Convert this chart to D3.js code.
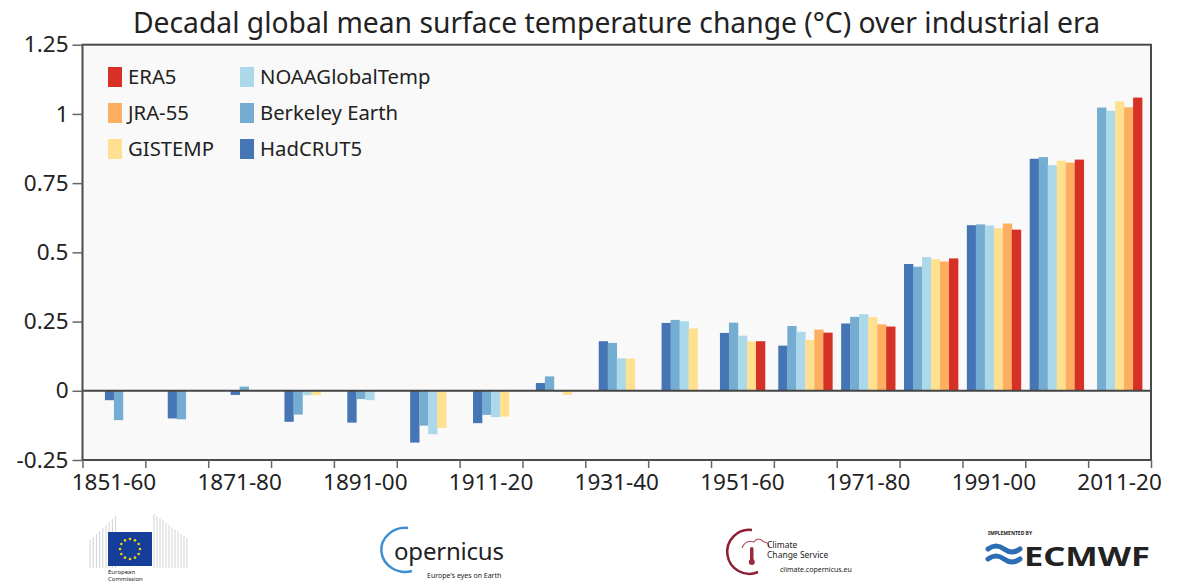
<!DOCTYPE html>
<html>
<head>
<meta charset="utf-8">
<script src="https://cdn.jsdelivr.net/npm/d3@7"></script>
<style>
  body { margin: 0; background: #fff; }
  svg { display: block; }
  text { font-family: "Noto Sans", "Open Sans", sans-serif; fill: #222; }
</style>
</head>
<body>
<svg id="chart" width="1194" height="582"></svg>
<script>
// Decadal anomalies (°C) relative to 1850-1900, six datasets
const decades = ["1851-60","1861-70","1871-80","1881-90","1891-00","1901-10","1911-20","1921-30",
                 "1931-40","1941-50","1951-60","1961-70","1971-80","1981-90","1991-00","2001-10","2011-20"];
const seriesNames  = ["HadCRUT5","Berkeley Earth","NOAAGlobalTemp","GISTEMP","JRA-55","ERA5"];
const seriesColors = ["#4575b4","#74add1","#abd9e9","#fee090","#fdae61","#d73027"];

const hadcrut5 = [-0.034,-0.100,-0.015,-0.112,-0.115,-0.187,-0.117, 0.028, 0.179, 0.245, 0.209, 0.163, 0.243, 0.458, 0.598, 0.838, null];
const berkeley = [-0.106,-0.103, 0.015,-0.086,-0.030,-0.126,-0.087, 0.052, 0.173, 0.256, 0.246, 0.234, 0.267, 0.448, 0.601, 0.844, 1.023];
const noaa     = [  null,  null,  null,-0.016,-0.034,-0.157,-0.095,-0.003, 0.117, 0.251, 0.199, 0.213, 0.277, 0.483, 0.597, 0.815, 1.011];
const gistemp  = [  null,  null,  null,-0.016,-0.003,-0.134,-0.093,-0.015, 0.116, 0.225, 0.178, 0.184, 0.266, 0.475, 0.587, 0.831, 1.045];
const jra55    = [  null,  null,  null,  null,  null,  null,  null,  null,  null,  null,  null, 0.221, 0.240, 0.467, 0.604, 0.824, 1.024];
const era5     = [  null,  null,  null,  null,  null,  null,  null,  null,  null,  null, 0.179, 0.210, 0.232, 0.478, 0.582, 0.835, 1.059];

const yTicks = [-0.25, 0, 0.25, 0.5, 0.75, 1, 1.25];
const yTickLabels = ["-0.25", "0", "0.25", "0.5", "0.75", "1", "1.25"];
const xLabelDecades = ["1851-60","1871-80","1891-00","1911-20","1931-40","1951-60","1971-80","1991-00","2011-20"];

const legendColumns = [["ERA5","JRA-55","GISTEMP"],["NOAAGlobalTemp","Berkeley Earth","HadCRUT5"]];

const titleText = "Decadal global mean surface temperature change (\u00B0C) over industrial era";

const allSeries = [hadcrut5, berkeley, noaa, gistemp, jra55, era5];

const svg = d3.select("#chart");
const plotLeft = 82.5, plotRight = 1151, plotTop = 44.7, plotBottom = 460;

const x = d3.scaleBand().domain(decades).range([plotLeft, plotRight]).paddingInner(0).paddingOuter(0);
const xEdge = d3.scaleLinear().domain([0, decades.length]).range([plotLeft, plotRight]);
const y = d3.scaleLinear().domain([-0.25, 1.25]).range([plotBottom, plotTop]);
const color = d3.scaleOrdinal().domain(seriesNames).range(seriesColors);

// plot background
svg.append("rect").attr("x", plotLeft).attr("y", plotTop)
  .attr("width", plotRight - plotLeft).attr("height", plotBottom - plotTop)
  .attr("fill", "#f9f9f9");

// bars: datasets present in a decade sit side by side, centred in the decade slot
const barW = x.bandwidth() * 0.86 / 6;
const bars = [];
decades.forEach((d, i) => {
  const present = [];
  allSeries.forEach((s, k) => { if (s[i] !== null) present.push({ name: seriesNames[k], v: s[i] }); });
  const start = x(d) + x.bandwidth() / 2 - present.length * barW / 2;
  present.forEach((p, j) => bars.push({ decade: d, name: p.name, v: p.v, x0: start + j * barW }));
});

svg.append("g").selectAll("rect").data(bars).join("rect")
  .attr("x", b => b.x0)
  .attr("width", barW + 0.3)
  .attr("y", b => y(Math.max(0, b.v)))
  .attr("height", b => Math.abs(y(b.v) - y(0)))
  .attr("fill", b => color(b.name));

// zero line
svg.append("line").attr("x1", plotLeft).attr("x2", plotRight).attr("y1", y(0)).attr("y2", y(0))
  .attr("stroke", "#444").attr("stroke-width", 2);

// frame
svg.append("rect").attr("x", plotLeft).attr("y", plotTop)
  .attr("width", plotRight - plotLeft).attr("height", plotBottom - plotTop)
  .attr("fill", "none").attr("stroke", "#4a4a4a").attr("stroke-width", 2);

// y axis
const yAxis = svg.append("g").attr("transform", `translate(${plotLeft},0)`)
  .call(d3.axisLeft(y).tickValues(yTicks).tickSize(10).tickPadding(4)
    .tickFormat((v) => yTickLabels[yTicks.indexOf(v)]));
yAxis.select(".domain").remove();
yAxis.selectAll(".tick line").attr("stroke", "#666").attr("stroke-width", 1.5);
yAxis.selectAll(".tick text").style("font-size", "22.5px").style("font-family", "\"Noto Sans\", sans-serif").attr("fill", "#222");

// x axis: ticks on decade boundaries
const xTicks = svg.append("g").attr("transform", `translate(0,${plotBottom})`)
  .call(d3.axisBottom(xEdge).tickValues(d3.range(decades.length + 1)).tickSize(8).tickFormat(""));
xTicks.select(".domain").remove();
xTicks.selectAll(".tick line").attr("stroke", "#666").attr("stroke-width", 1.5);

// x axis labels at every other decade centre
const xLabels = svg.append("g").attr("transform", `translate(0,${plotBottom})`)
  .call(d3.axisBottom(x).tickValues(xLabelDecades).tickSize(0).tickPadding(14));
xLabels.select(".domain").remove();
xLabels.selectAll(".tick text").style("font-size", "22.5px").style("font-family", "\"Noto Sans\", sans-serif").attr("fill", "#222");

// title, sized to span the plot
const title = svg.append("text").attr("x", 616.5).attr("y", 33).attr("text-anchor", "middle")
  .style("font-size", "100px").text(titleText);
const tw = title.node().getComputedTextLength();
title.style("font-size", (100 * 967 / tw) + "px");

// legend
const legendX = [108, 240], legendY = [67, 103, 139];
legendColumns.forEach((col, c) => {
  col.forEach((name, r) => {
    const g = svg.append("g").attr("transform", `translate(${legendX[c]},${legendY[r]})`);
    g.append("rect").attr("width", 14).attr("height", 20).attr("fill", color(name));
    g.append("text").attr("x", 20).attr("y", 10).attr("dy", "0.36em")
      .style("font-size", "20.3px").text(name);
  });
});

// ---- footer logos ----
const logos = svg.append("g");

// European Commission
const ec = logos.append("g");
for (let i = 0; i < 9; i++) {
  const lx = 90 + i * 3.2;
  ec.append("line").attr("x1", lx).attr("x2", lx).attr("y1", 540 - i * 3).attr("y2", 568)
    .attr("stroke", "#d2d2d2").attr("stroke-width", 1);
}
for (let i = 0; i < 12; i++) {
  const lx = 154 + i * 3;
  ec.append("line").attr("x1", lx).attr("x2", lx).attr("y1", 514 + i * 2.2).attr("y2", 568)
    .attr("stroke", "#d2d2d2").attr("stroke-width", 1);
}
ec.append("rect").attr("x", 108).attr("y", 532).attr("width", 44).attr("height", 34).attr("fill", "#153e9a");
d3.range(12).forEach(k => {
  const a = k / 12 * 2 * Math.PI;
  ec.append("circle").attr("cx", 130 + 10 * Math.cos(a)).attr("cy", 549 + 10 * Math.sin(a))
    .attr("r", 1.3).attr("fill", "#f5d20a");
});
ec.append("text").attr("x", 108).attr("y", 574).style("font-size", "6px").attr("fill", "#555").text("European");
ec.append("text").attr("x", 108).attr("y", 581).style("font-size", "6px").attr("fill", "#555").text("Commission");

// Copernicus
const cop = logos.append("g");
cop.append("path").attr("d", "M 408 528 A 24 22 0 1 0 412 571").attr("fill", "none")
  .attr("stroke", "#3f8fd0").attr("stroke-width", 2.5);
cop.append("text").attr("x", 394).attr("y", 560).style("font-size", "24px").attr("fill", "#2a4a8a")
  .attr("textLength", 110).text("opernicus");
cop.append("text").attr("x", 427).attr("y", 578).style("font-size", "7px").attr("fill", "#4a8fcc")
  .text("Europe's eyes on Earth");

// Climate Change Service
const c3s = logos.append("g");
c3s.append("path").attr("d", "M 752 530 A 22 22 0 1 0 758 572").attr("fill", "none")
  .attr("stroke", "#8f1d33").attr("stroke-width", 2.5);
c3s.append("path").attr("d", "M 742 548 q 4 -9 12 -6 q 4 -6 10 0 q 5 0 5 5").attr("fill", "none")
  .attr("stroke", "#b04a5c").attr("stroke-width", 1.2);
c3s.append("rect").attr("x", 750).attr("y", 547).attr("width", 3.5).attr("height", 14).attr("rx", 1.7).attr("fill", "#9c2a3e");
c3s.append("circle").attr("cx", 751.8).attr("cy", 562).attr("r", 3).attr("fill", "#9c2a3e");
c3s.append("text").attr("x", 767).attr("y", 548).style("font-size", "8.5px").attr("fill", "#8f1d33").text("Climate");
c3s.append("text").attr("x", 767).attr("y", 558).style("font-size", "8.5px").attr("fill", "#8f1d33").text("Change Service");
c3s.append("text").attr("x", 780).attr("y", 572).style("font-size", "7px").attr("fill", "#aaa").text("climate.copernicus.eu");

// ECMWF
const ecm = logos.append("g");
ecm.append("text").attr("x", 988).attr("y", 535).style("font-size", "5px").style("font-weight", "bold")
  .attr("fill", "#2c6db5").text("IMPLEMENTED BY");
ecm.append("path").attr("d", "M 988 549 q 8 -6 16 0 q 8 6 16 0").attr("fill", "none")
  .attr("stroke", "#2c6db5").attr("stroke-width", 5).attr("stroke-linecap", "round");
ecm.append("path").attr("d", "M 988 559 q 8 -6 16 0 q 8 6 16 0").attr("fill", "none")
  .attr("stroke", "#2c6db5").attr("stroke-width", 5).attr("stroke-linecap", "round");
ecm.append("text").attr("x", 1024).attr("y", 566).style("font-size", "27px").style("font-weight", "bold")
  .attr("fill", "#2c6db5").attr("textLength", 126).attr("lengthAdjust", "spacingAndGlyphs").text("ECMWF");
</script>
</body>
</html>
